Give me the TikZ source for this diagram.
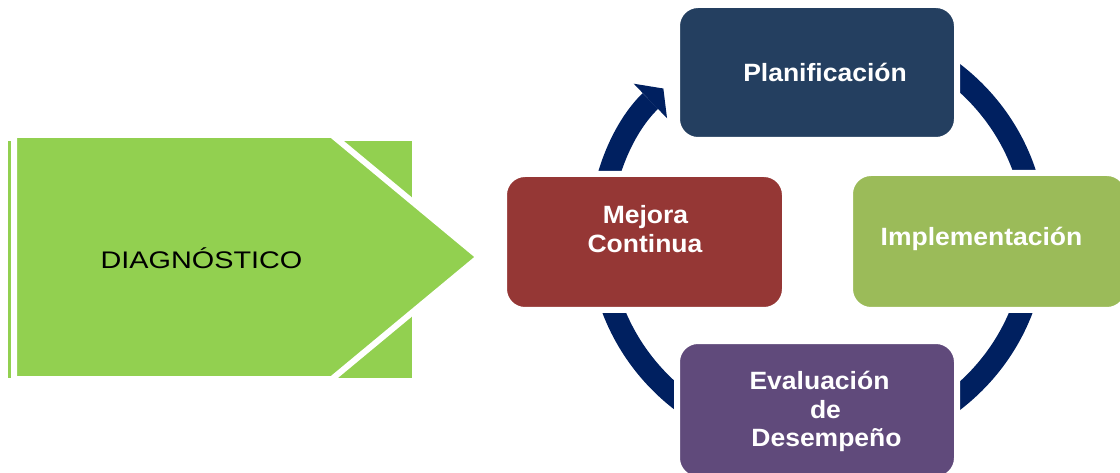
\documentclass[tikz,border=0pt]{standalone}
\usepackage{fontspec}
\setmainfont{Liberation Sans}
\newfontfamily\diagfont[FakeStretch=1.2]{Liberation Sans}
\newfontfamily\lblfont[FakeStretch=1.06]{Liberation Sans}
\usetikzlibrary{arrows.meta}
\definecolor{diaggreen}{HTML}{92D050}
\definecolor{planblue}{HTML}{243F60}
\definecolor{implgreen}{HTML}{9BBB59}
\definecolor{evalpurple}{HTML}{604A7B}
\definecolor{mejred}{HTML}{953735}
\definecolor{ringnavy}{HTML}{002060}
\begin{document}
\begin{tikzpicture}[x=1pt,y=-1pt,
  card/.style={rounded corners=21pt, draw=white, line width=6pt, inner sep=0pt},
  lbl/.style={text=white, inner sep=0pt, anchor=base, font=\fontsize{25}{30}\selectfont\lblfont\bfseries},
  ring/.style={draw=ringnavy, line width=22pt},
  arrowtip/.style={-{Triangle[length=18pt, width=48pt, line width=0pt]}}
]
\useasboundingbox (0,0) rectangle (1120,473);
\coordinate (c) at (817.5,237);

% ring segments
\draw[ring, arrowtip] (c) ++(180:218 and 210) arc[start angle=180, end angle=225, x radius=218, y radius=210];
\draw[ring] (c) ++(300:218 and 210) arc[start angle=300, end angle=360, x radius=218, y radius=210];
\draw[ring] (c) ++(0:218 and 210) arc[start angle=0, end angle=60, x radius=218, y radius=210];
\draw[ring] (c) ++(120:218 and 210) arc[start angle=120, end angle=180, x radius=218, y radius=210];

% boxes
\node[card, fill=planblue, minimum width=280pt, minimum height=135pt] (plan) at (817,72.5) {};
\node[card, fill=mejred, minimum width=281pt, minimum height=136pt] (mej) at (644.5,242) {};
\node[card, fill=implgreen, minimum width=278pt, minimum height=137pt] (impl) at (989,241.5) {};
\node[card, fill=evalpurple, minimum width=280pt, minimum height=138pt] (eval) at (817,410) {};

\node[lbl] (plantxt) at (825,82) {Planificación};
\node[lbl] (mej1) at (645.5,224) {Mejora};
\node[lbl] (mej2) at (645,253) {Continua};
\node[lbl] (impltxt) at (981.5,246) {Implementación};
\node[lbl] (ev1) at (819.5,389) {Evaluación};
\node[lbl] (ev2) at (825.5,418) {de};
\node[lbl] (ev3) at (826.5,446) {Desempeño};

% diagnostic arrow
\fill[diaggreen] (8,141) rectangle (412,378);
\path[fill=diaggreen, draw=white, line width=6pt, line join=miter]
  (14,135) -- (332,135) -- (479,257) -- (332,379) -- (14,379) -- cycle;
\node[inner sep=0pt, anchor=base, font=\fontsize{24}{28}\selectfont\diagfont] (diag) at (201.5,269) {DIAGNÓSTICO};
\end{tikzpicture}
\end{document}
